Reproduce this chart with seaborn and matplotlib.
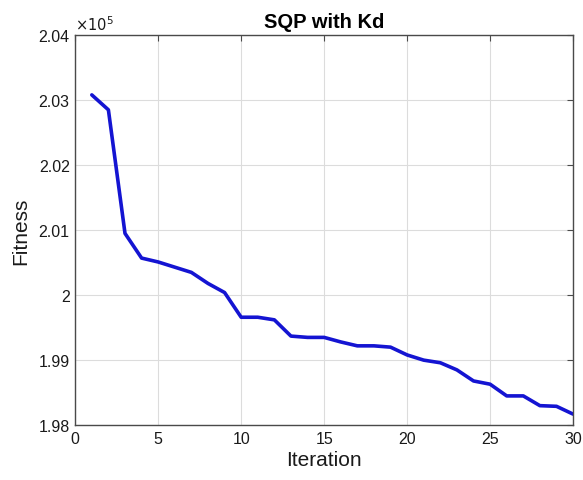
import matplotlib
matplotlib.use("Agg")
import matplotlib.pyplot as plt
import seaborn as sns
import pandas as pd
from matplotlib.ticker import FuncFormatter

iterations = list(range(1, 31))
fitness = [203080, 202850, 200950, 200570, 200510, 200430, 200350, 200180, 200040,
           199660, 199660, 199620, 199370, 199350, 199350, 199280, 199220, 199220,
           199200, 199080, 199000, 198960, 198850, 198680, 198630, 198450, 198450,
           198300, 198290, 198170]
x_ticks = [0, 5, 10, 15, 20, 25, 30]
y_ticks = [198000, 199000, 200000, 201000, 202000, 203000, 204000]

sns.set_theme(style="white")
plt.rcParams['font.family'] = ['Liberation Sans', 'DejaVu Sans']

df = pd.DataFrame({"Iteration": iterations, "Fitness": fitness})

fig = plt.figure(figsize=(5.83, 4.81), dpi=100)
ax = fig.add_axes([0.129, 0.114, 0.854, 0.811])
sns.lineplot(data=df, x="Iteration", y="Fitness", ax=ax, color="#1414d2", linewidth=2.6)

ax.set_xlim(0, 30)
ax.set_ylim(198000, 204000)
ax.set_xticks(x_ticks)
ax.set_yticks(y_ticks)
ax.yaxis.set_major_formatter(FuncFormatter(lambda v, p: f"{v/1e5:g}"))
ax.grid(True, color="#dcdcdc", linewidth=0.8)
ax.tick_params(direction="in", top=True, right=True, length=4, width=0.8,
               labelsize=11.5, colors="#4a4a4a", labelcolor="#1a1a1a", pad=4)
for s in ax.spines.values():
    s.set_color("#4a4a4a")
    s.set_linewidth(1.0)
ax.set_xlabel("Iteration", fontsize=15, color="#1a1a1a", labelpad=3)
ax.set_ylabel("Fitness", fontsize=15, color="#1a1a1a", labelpad=6)
ax.set_title("SQP with Kd", fontsize=14.5, fontweight="bold", pad=6, color="black")
ax.text(0.0, 1.005, r"$\times10^5$", transform=ax.transAxes, fontsize=10.5,
        ha="left", va="bottom", color="#1a1a1a")

fig.savefig("out.png", dpi=100)
